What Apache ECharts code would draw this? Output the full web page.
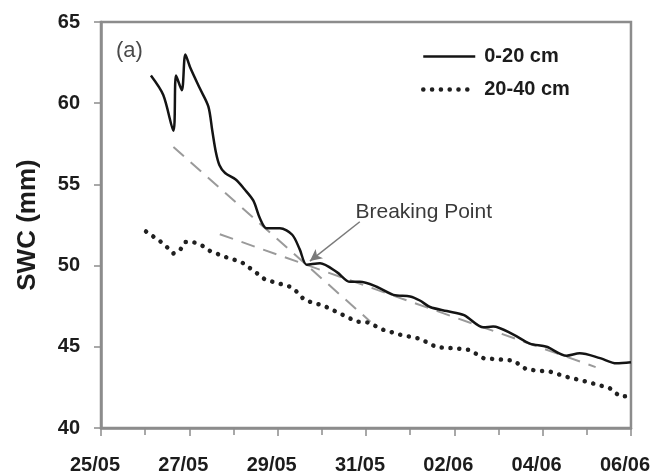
<!DOCTYPE html>
<html>
<head>
<meta charset="utf-8">
<script src="https://cdn.jsdelivr.net/npm/echarts/dist/echarts.min.js"></script>
<style>
  html, body { margin: 0; padding: 0; background: #ffffff; }
  #chart { width: 653px; height: 475px; }
</style>
</head>
<body>
<div id="chart"></div>
<script>
// Soil water content, days counted from 25/05
const tickLabels = ['25/05', '27/05', '29/05', '31/05', '02/06', '04/06', '06/06'];

// 0-20 cm layer
const days0to20 = [1.13, 1.41, 1.64, 1.70, 1.83, 1.91, 2.02, 2.24, 2.43, 2.52, 2.60, 2.68, 2.81, 3.05, 3.25, 3.45, 3.60, 3.75, 4.05, 4.33, 4.50, 4.66, 4.96, 5.34, 5.64, 5.86, 6.24, 6.62, 7.00, 7.22, 7.45, 7.83, 8.22, 8.66, 8.88, 9.34, 9.71, 10.09, 10.54, 10.84, 11.30, 11.67, 12.00];
const swc0to20  = [61.7, 60.5, 58.3, 61.7, 60.8, 63.0, 62.2, 60.9, 59.8, 58.3, 57.0, 56.2, 55.7, 55.3, 54.7, 54.0, 52.9, 52.3, 52.3, 51.9, 51.0, 50.05, 50.15, 49.6, 49.0, 49.0, 48.7, 48.2, 48.1, 47.85, 47.45, 47.2, 46.95, 46.2, 46.25, 45.75, 45.2, 45.0, 44.45, 44.6, 44.3, 43.98, 44.05];

// 20-40 cm layer
const days20to40 = [1.02, 1.18, 1.34, 1.49, 1.64, 1.79, 1.90, 2.09, 2.28, 2.47, 2.66, 2.85, 3.03, 3.22, 3.37, 3.52, 3.71, 3.90, 4.09, 4.28, 4.43, 4.60, 4.81, 5.03, 5.41, 5.79, 6.05, 6.39, 6.77, 7.22, 7.60, 8.05, 8.35, 8.66, 9.11, 9.34, 9.64, 10.17, 10.54, 11.00, 11.52, 11.75, 12.00];
const swc20to40  = [52.1, 51.8, 51.5, 51.15, 50.75, 50.95, 51.45, 51.45, 51.25, 50.9, 50.7, 50.5, 50.35, 50.15, 49.85, 49.55, 49.15, 49.0, 48.85, 48.7, 48.4, 47.9, 47.7, 47.55, 47.05, 46.55, 46.5, 46.05, 45.75, 45.5, 44.97, 44.9, 44.8, 44.3, 44.2, 44.15, 43.6, 43.47, 43.15, 42.85, 42.45, 41.95, 41.95];

// Fitted drying phases (end points), meeting at the breaking point
const fitEarlyDays = [1.64, 6.10];
const fitEarlySwc  = [57.3, 46.55];
const fitLateDays  = [2.69, 11.20];
const fitLateSwc   = [51.93, 43.75];
const arrowFrom = [5.86, 52.7];
const arrowTo   = [4.73, 50.28];
const breakLabelAt = [5.75, 53.3];

const zip = (xs, ys) => xs.map((x, i) => [x, ys[i]]);

const axisGrey = '#8c8c8c';
const font = '"Liberation Sans", Arial, sans-serif';
const solidStyle = { color: '#141414', width: 2.5, type: 'solid' };
const dottedStyle = { color: '#202020', width: 4.5, type: [0.1, 8.7], cap: 'round' };

const chart = echarts.init(document.getElementById('chart'), null, { renderer: 'canvas' });

chart.setOption({
  animation: false,
  backgroundColor: '#ffffff',
  title: {
    text: '(a)',
    left: 111, top: 35,
    textStyle: { fontFamily: font, fontSize: 22, fontWeight: 'normal', color: '#4a4a4a' }
  },
  legend: {
    orient: 'vertical',
    left: 416, top: 41,
    itemWidth: 52, itemHeight: 14, itemGap: 12,
    itemStyle: { opacity: 0 },
    data: [
      { name: '0-20 cm', itemStyle: { opacity: 0 }, lineStyle: solidStyle },
      { name: '20-40 cm', itemStyle: { opacity: 0 }, lineStyle: dottedStyle }
    ],
    textStyle: { fontFamily: font, fontSize: 20, fontWeight: 'bold', color: '#1c1c1c', lineHeight: 21, padding: [0, 0, 0, 4] }
  },
  grid: {
    left: 101, right: 22, top: 22, bottom: 47,
    show: true, borderColor: axisGrey, borderWidth: 2.5
  },
  xAxis: {
    type: 'value', min: 0, max: 12, interval: 2,
    axisLine: { lineStyle: { color: axisGrey, width: 2.5 } },
    axisTick: { show: true, length: 8, lineStyle: { color: axisGrey, width: 1.5 } },
    minorTick: { show: true, splitNumber: 2, length: 7, lineStyle: { color: axisGrey, width: 1.5 } },
    splitLine: { show: false },
    axisLabel: {
      margin: 27, fontFamily: font, fontSize: 20, fontWeight: 'bold', color: '#1c1c1c',
      padding: [0, 12, 0, 0],
      formatter: v => tickLabels[Math.round(v / 2)]
    }
  },
  yAxis: {
    type: 'value', min: 40, max: 65, interval: 5,
    name: 'SWC (mm)', nameLocation: 'middle', nameGap: 60,
    nameTextStyle: { fontFamily: font, fontSize: 26, fontWeight: 'bold', color: '#1c1c1c' },
    axisLine: { show: true, lineStyle: { color: axisGrey, width: 2.5 } },
    axisTick: { show: true, length: 7, lineStyle: { color: axisGrey, width: 1.5 } },
    splitLine: { show: false },
    axisLabel: { margin: 21, fontFamily: font, fontSize: 20, fontWeight: 'bold', color: '#1c1c1c' }
  },
  series: [
    {
      name: 'fit-early', type: 'line', silent: true, symbol: 'none', z: 2,
      data: zip(fitEarlyDays, fitEarlySwc),
      lineStyle: { color: '#9a9a9a', width: 2, type: [14, 9] }
    },
    {
      name: 'fit-late', type: 'line', silent: true, symbol: 'none', z: 2,
      data: zip(fitLateDays, fitLateSwc),
      lineStyle: { color: '#9a9a9a', width: 2, type: [14, 9] },
      markLine: {
        silent: true, symbol: ['none', 'arrow'], symbolSize: [9, 12],
        lineStyle: { color: '#7a7a7a', width: 1.5, type: 'solid' },
        label: { show: false },
        data: [[{ coord: arrowFrom }, { coord: arrowTo }]]
      },
      markPoint: {
        silent: true, symbol: 'circle', symbolSize: 1,
        itemStyle: { color: 'rgba(0,0,0,0)' },
        label: {
          show: true, position: 'right', distance: 0, formatter: 'Breaking Point',
          fontFamily: font, fontSize: 21, color: '#3a3a3a'
        },
        data: [{ coord: breakLabelAt }]
      }
    },
    {
      name: '20-40 cm', type: 'line', symbol: 'none', z: 3,
      data: zip(days20to40, swc20to40),
      itemStyle: { color: '#202020' },
      lineStyle: dottedStyle
    },
    {
      name: '0-20 cm', type: 'line', symbol: 'none', z: 4, smooth: 0.3,
      data: zip(days0to20, swc0to20),
      itemStyle: { color: '#141414' },
      lineStyle: solidStyle
    }
  ]
});
</script>
</body>
</html>
